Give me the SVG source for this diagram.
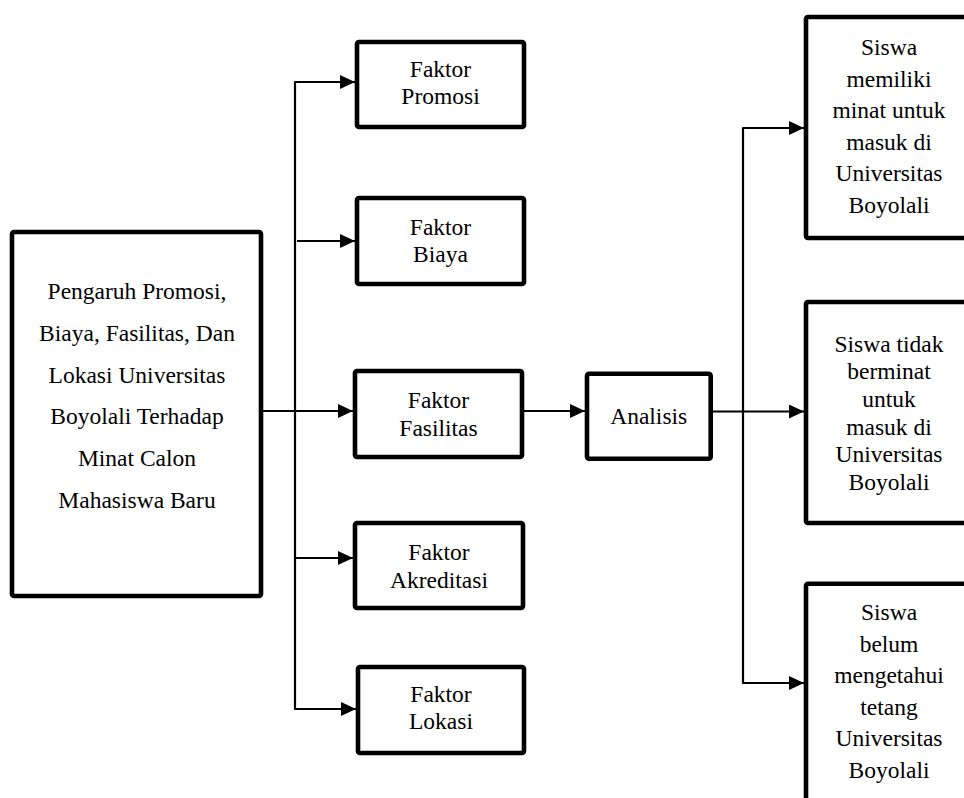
<svg xmlns="http://www.w3.org/2000/svg" width="964" height="798" viewBox="0 0 964 798">
<style>
.box{fill:#fff;stroke:#000;stroke-width:4.6;stroke-linejoin:round}
.t{font-family:"Liberation Serif","Times New Roman",serif;font-size:23.5px;fill:#000;text-anchor:middle}
.c{fill:none;stroke:#000;stroke-width:2.2;stroke-linejoin:round}
</style>
<defs>
<marker id="ah" markerUnits="userSpaceOnUse" markerWidth="16" markerHeight="15" refX="15" refY="7" orient="auto">
<path d="M0,0 L15,7 L0,14 z" fill="#000"/>
</marker>
</defs>
<rect width="964" height="798" fill="#fff"/>
<g id="connectors">
<path class="c" d="M263 411 H353" marker-end="url(#ah)"/>
<path class="c" d="M355 82 H295 V709 H356" marker-end="url(#ah)"/>
<path class="c" d="M297 241 H355" marker-end="url(#ah)"/>
<path class="c" d="M295 558 H353" marker-end="url(#ah)"/>
<path class="c" d="M295 82 H355" marker-end="url(#ah)"/>
<path class="c" d="M524 411 H585" marker-end="url(#ah)"/>
<path class="c" d="M712 411.5 H804" marker-end="url(#ah)"/>
<path class="c" d="M804 128 H743 V683 H804" marker-end="url(#ah)"/>
<path class="c" d="M743 128 H804" marker-end="url(#ah)"/>
</g>
<g id="main">
<rect class="box" x="12" y="232" width="249" height="364" rx="2"/>
<text class="t" x="137" y="299">Pengaruh Promosi,</text>
<text class="t" x="137" y="340.7">Biaya, Fasilitas, Dan</text>
<text class="t" x="137" y="382.5">Lokasi Universitas</text>
<text class="t" x="137" y="424.2">Boyolali Terhadap</text>
<text class="t" x="137" y="466">Minat Calon</text>
<text class="t" x="137" y="507.5">Mahasiswa Baru</text>
</g>
<g id="promosi">
<rect class="box" x="357" y="42" width="167" height="85" rx="2"/>
<text class="t" x="440.5" y="77">Faktor</text>
<text class="t" x="440.5" y="104">Promosi</text>
</g>
<g id="biaya">
<rect class="box" x="357" y="198" width="167" height="86" rx="2"/>
<text class="t" x="440.5" y="235">Faktor</text>
<text class="t" x="440.5" y="262">Biaya</text>
</g>
<g id="fasilitas">
<rect class="box" x="355" y="371" width="167" height="86" rx="2"/>
<text class="t" x="438.5" y="408.3">Faktor</text>
<text class="t" x="438.5" y="436">Fasilitas</text>
</g>
<g id="akreditasi">
<rect class="box" x="355" y="523" width="168" height="85" rx="2"/>
<text class="t" x="439" y="560">Faktor</text>
<text class="t" x="439" y="587.7">Akreditasi</text>
</g>
<g id="lokasi">
<rect class="box" x="358" y="667" width="166" height="86" rx="2"/>
<text class="t" x="441" y="701.7">Faktor</text>
<text class="t" x="441" y="729">Lokasi</text>
</g>
<g id="analisis">
<rect class="box" x="587" y="373.7" width="123.7" height="85" rx="2"/>
<text class="t" x="648.7" y="424">Analisis</text>
</g>
<g id="minat">
<rect class="box" x="806" y="17" width="200" height="221" rx="2"/>
<text class="t" x="889" y="55">Siswa</text>
<text class="t" x="889" y="86.5">memiliki</text>
<text class="t" x="889" y="118">minat untuk</text>
<text class="t" x="889" y="149.5">masuk di</text>
<text class="t" x="889" y="181">Universitas</text>
<text class="t" x="889" y="212.7">Boyolali</text>
</g>
<g id="tidak">
<rect class="box" x="806" y="302" width="200" height="221" rx="2"/>
<text class="t" x="889" y="351.7">Siswa tidak</text>
<text class="t" x="889" y="379.3">berminat</text>
<text class="t" x="889" y="406.9">untuk</text>
<text class="t" x="889" y="434.5">masuk di</text>
<text class="t" x="889" y="462.1">Universitas</text>
<text class="t" x="889" y="489.7">Boyolali</text>
</g>
<g id="belum">
<rect class="box" x="806" y="583.7" width="200" height="300" rx="2"/>
<text class="t" x="889" y="620">Siswa</text>
<text class="t" x="889" y="651.5">belum</text>
<text class="t" x="889" y="683">mengetahui</text>
<text class="t" x="889" y="714.5">tetang</text>
<text class="t" x="889" y="746">Universitas</text>
<text class="t" x="889" y="777.8">Boyolali</text>
</g>
</svg>
